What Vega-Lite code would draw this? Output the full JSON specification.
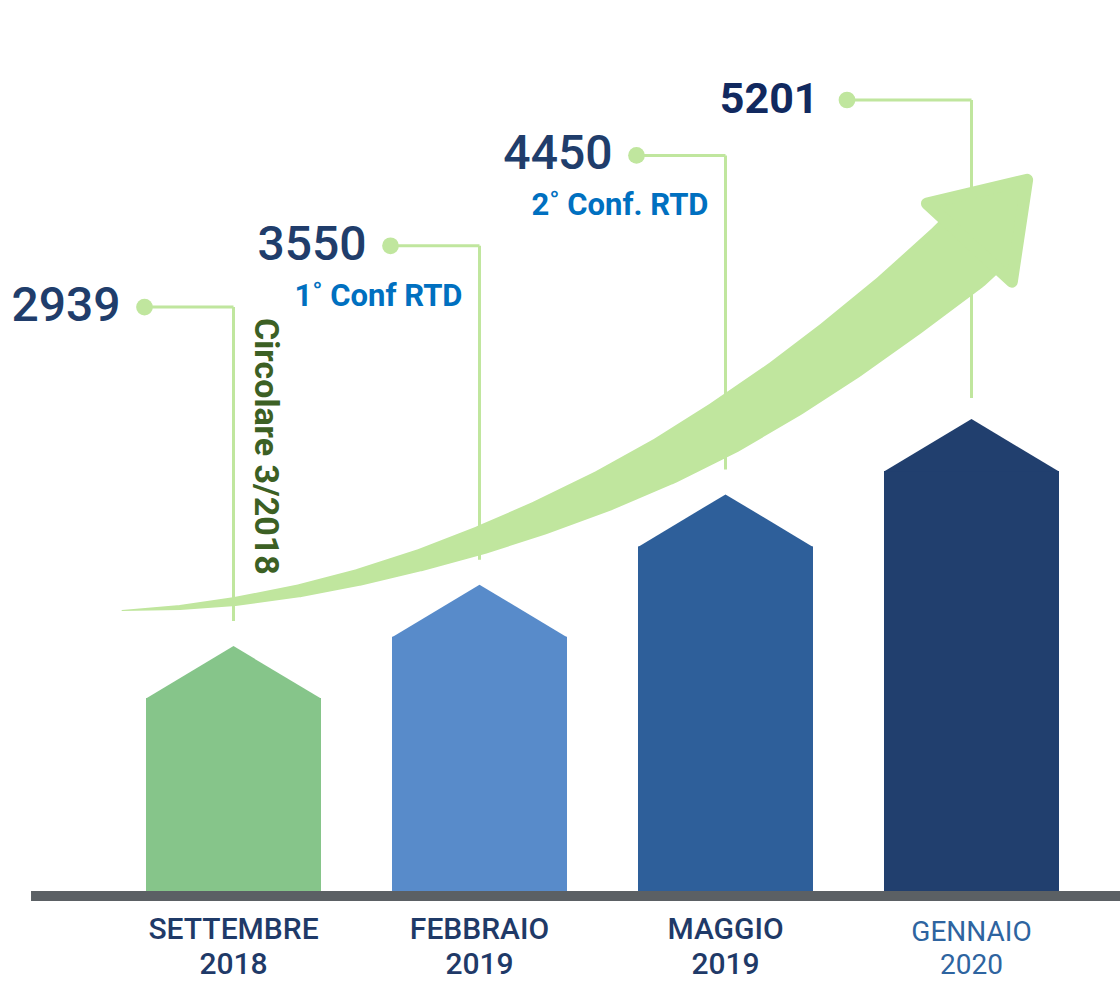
{
  "$schema": "https://vega.github.io/schema/vega-lite/v6.json",
  "width": 1120,
  "height": 891,
  "padding": {"left": 0, "top": 0, "right": 0, "bottom": 93},
  "autosize": {"type": "none"},
  "background": "white",
  "config": {"view": {"stroke": null}, "font": "Roboto"},
  "datasets": {
    "periodi": [
      {"periodo": "SETTEMBRE\n2018", "anno": "2018", "valore": 2939, "nota": "Circolare 3/2018"},
      {"periodo": "FEBBRAIO\n2019", "anno": "2019", "valore": 3550, "nota": "1˚ Conf RTD"},
      {"periodo": "MAGGIO\n2019", "anno": "2019", "valore": 4450, "nota": "2˚ Conf. RTD"},
      {"periodo": "GENNAIO\n2020", "anno": "2020", "valore": 5201, "nota": ""}
    ],
    "freccia": [
      {"X": 10.893, "Y": 31.481, "w": 1},
      {"X": 16.071, "Y": 31.829, "w": 5},
      {"X": 20.982, "Y": 32.492, "w": 9},
      {"X": 26.786, "Y": 33.704, "w": 13},
      {"X": 32.054, "Y": 35.208, "w": 17},
      {"X": 37.5, "Y": 37.127, "w": 22},
      {"X": 43.125, "Y": 39.461, "w": 29},
      {"X": 48.214, "Y": 41.874, "w": 35},
      {"X": 53.929, "Y": 44.938, "w": 42},
      {"X": 59.375, "Y": 48.283, "w": 49},
      {"X": 64.732, "Y": 52.065, "w": 56},
      {"X": 70.089, "Y": 56.33, "w": 61},
      {"X": 75.089, "Y": 60.741, "w": 66},
      {"X": 80.357, "Y": 65.791, "w": 71},
      {"X": 85.536, "Y": 71.133, "w": 78},
      {"X": 87.054, "Y": 72.952, "w": 79}
    ]
  },
  "layer": [
    {
      "layer": [
        {
          "data": {"values": [{}]},
          "mark": {"type": "rule", "color": "#5b6064", "strokeWidth": 10, "yOffset": 5, "strokeCap": "butt"},
          "encoding": {
            "x": {"datum": 2.77, "type": "quantitative", "scale": {"domain": [0, 100]}, "axis": null},
            "x2": {"datum": 100},
            "y": {"datum": 0, "type": "quantitative", "scale": {"domain": [0, 100]}, "axis": null}
          }
        },
        {
          "data": {"name": "freccia"},
          "mark": {"type": "trail", "color": "#c0e69e"},
          "encoding": {
            "x": {"field": "X", "type": "quantitative", "scale": {"domain": [0, 100]}, "axis": null},
            "y": {"field": "Y", "type": "quantitative", "scale": {"domain": [0, 100]}, "axis": null},
            "size": {"field": "w", "type": "quantitative", "scale": null, "legend": null},
            "order": {"field": "X"}
          }
        },
        {
          "data": {"values": [{}]},
          "mark": {"type": "point", "shape": "M0,-0.793L0.836,0.443L-0.836,0.443Z", "size": 19044, "angle": 42.6, "filled": true, "fill": "#c0e69e", "stroke": "#c0e69e", "strokeWidth": 12, "strokeJoin": "round", "opacity": 1},
          "encoding": {
            "x": {"datum": 88.4, "type": "quantitative", "scale": {"domain": [0, 100]}, "axis": null},
            "y": {"datum": 75.3, "type": "quantitative", "scale": {"domain": [0, 100]}, "axis": null}
          }
        }
      ]
    },
    {
      "data": {"name": "periodi"},
      "encoding": {
        "x": {
          "field": "periodo", "type": "nominal", "axis": null,
          "scale": {"type": "band", "domain": ["SETTEMBRE\n2018", "FEBBRAIO\n2019", "MAGGIO\n2019", "GENNAIO\n2020"], "range": [146, 1059], "paddingInner": 0.2886, "paddingOuter": 0}
        },
        "y": {"field": "valore", "type": "quantitative", "axis": null, "scale": {"domain": [500, 9374], "zero": false, "nice": false}}
      },
      "layer": [
        {
          "transform": [{"filter": "datum.anno != '2020'"}],
          "mark": {"type": "rule", "color": "#c0e69e", "strokeWidth": 3, "yOffset": -339, "y2Offset": -25},
          "encoding": {"y2": {"field": "valore"}}
        },
        {
          "transform": [{"filter": "datum.anno != '2020'"}],
          "mark": {"type": "rule", "color": "#c0e69e", "strokeWidth": 3, "xOffset": -89, "yOffset": -339},
          "encoding": {"x2": {"field": "periodo"}}
        },
        {
          "transform": [{"filter": "datum.anno != '2020'"}],
          "mark": {"type": "point", "shape": "circle", "filled": true, "color": "#c0e69e", "opacity": 1, "size": 280, "xOffset": -89, "yOffset": -339}
        },
        {
          "transform": [{"filter": "datum.anno == '2020'"}],
          "mark": {"type": "rule", "color": "#c0e69e", "strokeWidth": 3, "yOffset": -319, "y2Offset": -21},
          "encoding": {"y2": {"field": "valore"}}
        },
        {
          "transform": [{"filter": "datum.anno == '2020'"}],
          "mark": {"type": "rule", "color": "#c0e69e", "strokeWidth": 3, "xOffset": -124.5, "yOffset": -319},
          "encoding": {"x2": {"field": "periodo"}}
        },
        {
          "transform": [{"filter": "datum.anno == '2020'"}],
          "mark": {"type": "point", "shape": "circle", "filled": true, "color": "#c0e69e", "opacity": 1, "size": 280, "xOffset": -124.5, "yOffset": -319}
        },
        {
          "mark": {"type": "bar", "yOffset": 52},
          "encoding": {
            "y2": {"datum": 500},
            "color": {"field": "periodo", "type": "nominal", "legend": null, "scale": {"domain": ["SETTEMBRE\n2018", "FEBBRAIO\n2019", "MAGGIO\n2019", "GENNAIO\n2020"], "range": ["#86c58a", "#588bca", "#2e5f9a", "#213f6e"]}}
          }
        },
        {
          "mark": {"type": "point", "shape": "M-1,0.6L0,0L1,0.6Z", "size": 30625, "filled": true, "opacity": 1},
          "encoding": {
            "color": {"field": "periodo", "type": "nominal", "legend": null}
          }
        },
        {
          "transform": [{"filter": "datum.anno != '2020'"}],
          "mark": {"type": "text", "align": "right", "baseline": "middle", "font": "Roboto", "fontSize": 48, "fontWeight": 500, "color": "#203d6b", "xOffset": -113, "yOffset": -339},
          "encoding": {"text": {"field": "valore", "type": "quantitative", "format": "d"}}
        },
        {
          "transform": [{"filter": "datum.anno == '2020'"}],
          "mark": {"type": "text", "align": "right", "baseline": "middle", "font": "Roboto", "fontSize": 43, "fontWeight": "bold", "color": "#11295f", "xOffset": -153, "yOffset": -319},
          "encoding": {"text": {"field": "valore", "type": "quantitative", "format": "d"}}
        },
        {
          "transform": [{"filter": "datum.anno == '2019'"}],
          "mark": {"type": "text", "align": "right", "baseline": "middle", "font": "Roboto", "fontSize": 31, "fontWeight": "bold", "color": "#0070c0", "xOffset": -17, "yOffset": -288},
          "encoding": {"text": {"field": "nota"}}
        },
        {
          "transform": [{"filter": "datum.anno == '2018'"}],
          "mark": {"type": "text", "align": "left", "baseline": "middle", "angle": 90, "font": "Roboto", "fontSize": 34, "fontWeight": "bold", "color": "#3c6024", "xOffset": 31.5, "yOffset": -328},
          "encoding": {"text": {"field": "nota"}}
        },
        {
          "transform": [{"filter": "datum.anno != '2020'"}],
          "mark": {"type": "text", "align": "center", "baseline": "alphabetic", "lineBreak": "\n", "lineHeight": 35, "font": "Roboto", "fontSize": 30, "fontWeight": 500, "color": "#1f3a68", "yOffset": 48},
          "encoding": {"y": {"datum": 500, "type": "quantitative"}, "text": {"field": "periodo"}}
        },
        {
          "transform": [{"filter": "datum.anno == '2020'"}],
          "mark": {"type": "text", "align": "center", "baseline": "alphabetic", "lineBreak": "\n", "lineHeight": 33, "font": "Roboto", "fontSize": 28, "fontWeight": 400, "color": "#2e64a0", "yOffset": 50},
          "encoding": {"y": {"datum": 500, "type": "quantitative"}, "text": {"field": "periodo"}}
        }
      ]
    }
  ],
  "resolve": {"scale": {"x": "independent", "y": "independent"}}
}
